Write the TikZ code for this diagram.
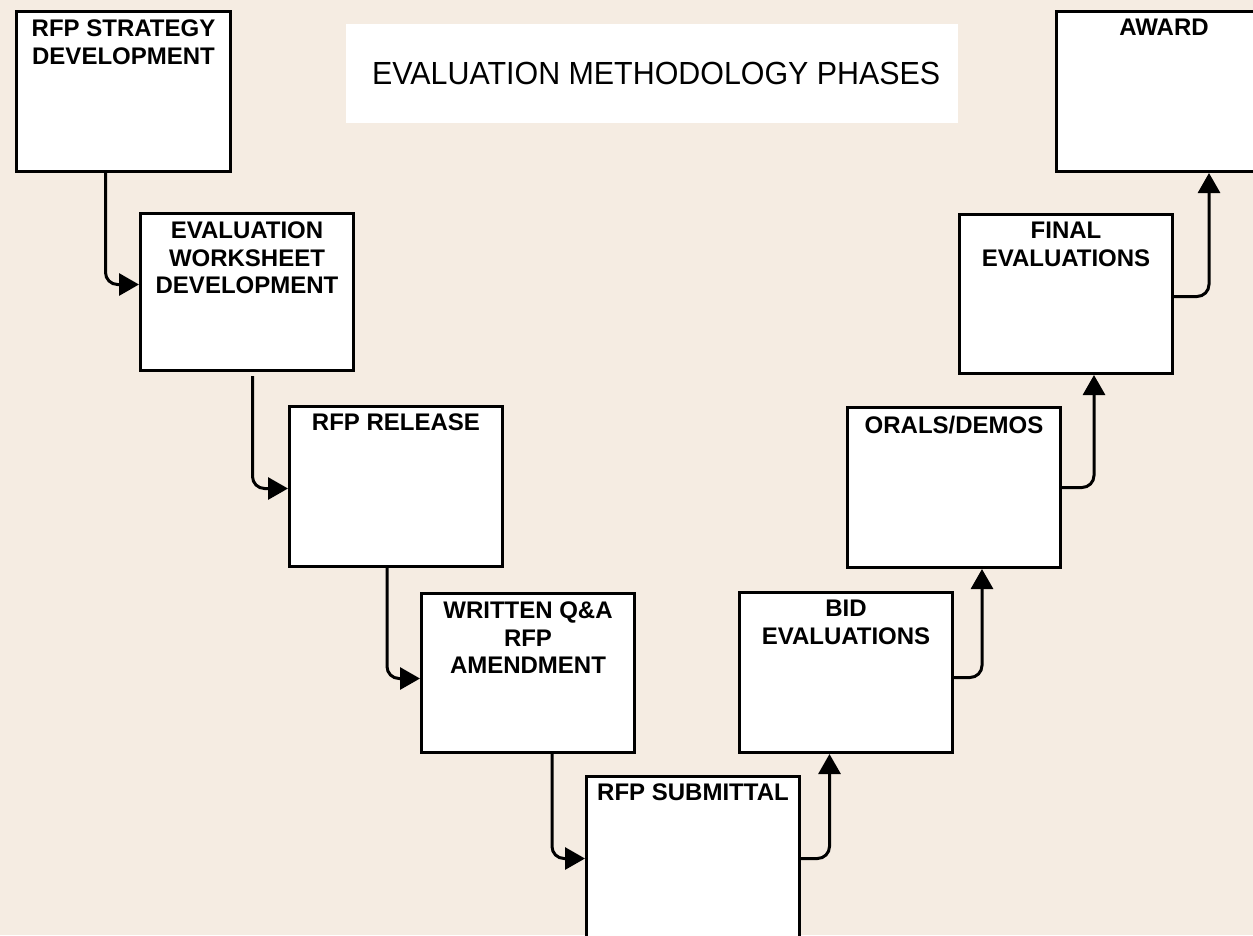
\documentclass[tikz,border=0pt]{standalone}
\usepackage{fontspec}
\setmainfont{Liberation Sans}
\newfontfamily\titlefont{Liberation Sans}[FakeStretch=0.95]
\usetikzlibrary{arrows.meta}
\definecolor{bg}{HTML}{F5ECE2}
\begin{document}
\begin{tikzpicture}[x=1pt,y=-1pt,
  box/.style={draw=black, line width=3pt, fill=white, anchor=north west, inner sep=0pt,
              minimum width=213pt, minimum height=159pt},
  lbl/.style={anchor=north, align=center, inner sep=0pt,
              font=\fontsize{24}{27.5}\selectfont\bfseries},
  conn/.style={line width=3pt, rounded corners=12pt, -{Triangle[length=20pt,width=22pt]}}]
\useasboundingbox (0,0) rectangle (1253,935);
\clip (0,0) rectangle (1253,935);
\fill[bg] (0,0) rectangle (1253,935);

% title
\node[fill=white, anchor=north west, minimum width=612pt, minimum height=99pt, inner sep=0pt] (title) at (346,24)
  {\titlefont\fontsize{32}{32}\selectfont\hspace*{8pt}EVALUATION METHODOLOGY PHASES};

% boxes
\node[box, minimum width=214pt, minimum height=160pt] (b1) at (15,10) {};
\node[box, minimum height=157pt] (b2) at (139,212) {};
\node[box, minimum height=160pt] (b3) at (288,405) {};
\node[box] (b4) at (420,592) {};
\node[box, minimum height=175pt] (b5) at (585,775) {};
\node[box, minimum height=160pt] (b6) at (738,591) {};
\node[box, minimum height=160pt] (b7) at (846,406) {};
\node[box] (b8) at (958,213) {};
\node[box, minimum width=215pt, minimum height=160pt] (b9) at (1055,10) {};

% labels
\node[lbl] (t1) at ([yshift=-10pt]b1.north) {RFP STRATEGY\\DEVELOPMENT};
\node[lbl] (t2) at ([yshift=-10pt]b2.north) {EVALUATION\\WORKSHEET\\DEVELOPMENT};
\node[lbl] (t3) at ([yshift=-9pt]b3.north) {RFP RELEASE};
\node[lbl] (t4) at ([yshift=-10pt]b4.north) {WRITTEN Q\&A\\RFP\\AMENDMENT};
\node[lbl] (t5) at ([yshift=-9pt]b5.north) {RFP SUBMITTAL};
\node[lbl] (t6) at ([yshift=-9pt]b6.north) {BID\\EVALUATIONS};
\node[lbl] (t7) at ([yshift=-10pt]b7.north) {ORALS/DEMOS};
\node[lbl] (t8) at ([yshift=-9pt]b8.north) {FINAL\\EVALUATIONS};
\node[lbl] (t9) at ([yshift=-9pt]b9.north) {AWARD};

% connectors
\draw[conn] ([xshift=-18pt]b1.south) |- ([yshift=7.5pt]b2.west);
\draw[conn] ([xshift=5.5pt,yshift=-4pt]b2.south) |- ([yshift=-2pt]b3.west);
\draw[conn] ([xshift=-9pt]b3.south) |- ([yshift=-5.5pt]b4.west);
\draw[conn] ([xshift=24pt,yshift=2pt]b4.south) |- ([yshift=5.5pt]b5.west);
\draw[conn] ([yshift=5.5pt]b5.east) -| ([xshift=-16.5pt]b6.south);
\draw[conn] ([yshift=-5pt]b6.east) -| ([xshift=28pt]b7.south);
\draw[conn] (b7.east) -| ([xshift=28pt]b8.south);
\draw[conn] ([yshift=-2.5pt]b8.east) -| ([xshift=45pt]b9.south);
\end{tikzpicture}
\end{document}
